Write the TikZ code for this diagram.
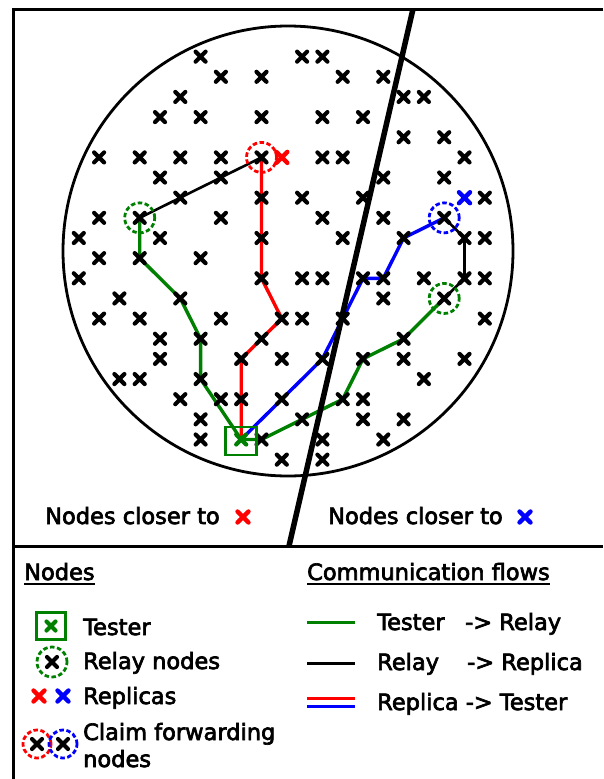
\documentclass[tikz,border=0pt]{standalone}
\usepackage{fontspec}
\setmainfont{DejaVu Sans}[FakeBold=3]
\usetikzlibrary{shapes.misc}
\definecolor{dgreen}{RGB}{0,128,0}
\pgfdeclarelayer{bg}
\pgfsetlayers{bg,main}
\begin{document}
\begin{tikzpicture}[x=1pt,y=-1pt,
  xmark/.style={cross out, draw=black, line width=4.2pt, line cap=round, minimum size=10pt, inner sep=0pt, outer sep=0pt},
  cmark/.style={xmark, line width=4.4pt, minimum size=11pt},
  ring/.style={circle, draw, dash pattern=on 4.5pt off 2.5pt, line width=2.8pt, minimum size=30pt, inner sep=0pt},
  flow/.style={line width=3.4pt, line join=round},
  kflow/.style={line width=2.6pt, line join=round},
  txt/.style={inner sep=0pt, anchor=base west, font=\fontsize{22.5}{26}\selectfont},
  frame/.style={line width=3pt}
]
\useasboundingbox (0,0) rectangle (603,779);

% ---------- grid of nodes ----------
\foreach \i/\j in {7/1,12/1,13/1, 8/2,10/2,14/2,16/2, 6/3,17/3,18/3,
  5/4,7/4,10/4,13/4,15/4, 17/5,19/5,
  2/6,4/6,6/6,8/6,10/6,13/6,14/6,20/6, 5/7,8/7,16/7,19/7,
  6/8,10/8,12/8,15/8,21/8, 2/9,4/9,8/9,13/9,16/9,19/9,
  1/10,5/10,10/10,14/10,17/10,20/10,21/10, 2/11,4/11,7/11,
  1/12,10/12,12/12,13/12,15/12,16/12,18/12,20/12,21/12,
  3/13,6/13,16/13,19/13, 2/14,4/14,8/14,11/14,12/14,14/14,21/14,
  5/15,7/15,10/15,17/15, 5/16,9/16,11/16,13/16,15/16,17/16,20/16,
  3/17,4/17,7/17,18/17, 6/18,8/18,9/18,11/18,14/18,15/18,
  7/19,12/19,15/19,17/19, 7/20,10/20,13/20,16/20, 11/21,13/21}
  \node[xmark] (n\i-\j) at ({58.5+20.3*\i},{36.5+20.15*\j}) {};

% tester
\node[xmark, draw=dgreen] (n9-20) at ({58.5+20.3*9},{36.5+20.15*20}) {};
\node[draw=dgreen, line width=2.8pt, minimum width=31pt, minimum height=28pt, inner sep=0pt] (tbox) at ([yshift=-1.5pt]n9-20) {};

% replicas
\node[cmark, draw=red] (repr) at ({58.5+20.3*11},{36.5+20.15*6}) {};
\node[cmark, draw=blue] (repb) at ({58.5+20.3*20},{36.5+20.15*8}) {};

% relay and claim forwarding rings
\node[ring, draw=dgreen] (relay1) at (n4-9) {};
\node[ring, draw=dgreen] (relay2) at (n19-13) {};
\node[ring, draw=red] (claimr) at (n10-6) {};
\node[ring, draw=blue] (claimb) at (n19-9) {};

\begin{pgfonlayer}{bg}
  \node[circle, draw, line width=2.8pt, minimum size=450pt, inner sep=0pt] (area) at (288,251) {};
  % tester -> relay (left)
  \draw[flow, dgreen] (n9-20.center) -- (n7-17.center) -- (n7-15.center) -- (n6-13.center) -- (n4-11.center) -- (n4-9.center);
  % relay -> replica (left)
  \draw[kflow] (n4-9.center) -- (n6-8.center) -- (n8-7.center) -- (n10-6.center);
  % replica -> tester (red)
  \draw[flow, red] (n10-6.center) -- (n10-10.center) -- (n10-12.center) -- (n11-14.center) -- (n9-16.center) -- (n9-20.center);
  % replica -> tester (blue)
  \draw[flow, blue] (n9-20.center) -- (n11-18.center) -- (n13-16.center) -- (n14-14.center) -- (n15-12.center) -- (n16-12.center) -- (n17-10.center) -- (n19-9.center);
  % relay -> replica (right)
  \draw[kflow] (n19-9.center) -- (n20-10.center) -- (n20-12.center) -- (n19-13.center);
  % tester -> relay (right)
  \draw[flow, dgreen] (n19-13.center) -- (n17-15.center) -- (n15-16.center) -- (n14-18.center) -- (n12-19.center) -- (n10-20.center) -- (n9-20.center);
\end{pgfonlayer}

% ---------- frame and divider ----------
\coordinate (ftr) at (603,9);
\coordinate (ftl) at (13,9);
\coordinate (fbl) at (13,779);
\coordinate (sl) at (13,546);
\coordinate (sr) at (603,546);
\draw[frame] (ftr) -- (ftl) -- (fbl);
\draw[frame] (sl) -- (sr);
\coordinate (dtop) at (413,9);
\coordinate (dbot) at (289,546);
\draw[line width=5.5pt] (dtop) -- (dbot);

% ---------- region labels ----------
\node[txt] (closl) at (45,524) {Nodes closer to};
\node[cmark, draw=red] (closlx) at (243,517) {};
\node[txt] (closr) at (328,524) {Nodes closer to};
\node[cmark, draw=blue] (closrx) at (525,517) {};

% ---------- legend: nodes ----------
\node[txt] (hnodes) at (24,580) {Nodes};
\draw[line width=2pt] ([yshift=-4pt]hnodes.base west) -- ([yshift=-4pt]hnodes.base east);
\node[draw=dgreen, line width=2.8pt, minimum width=29pt, minimum height=27pt, inner sep=0pt] (ltbox) at (51,626) {};
\node[xmark, draw=dgreen, minimum size=9pt] (ltx) at (ltbox) {};
\node[txt] (ltester) at (83,635) {Tester};
\node[ring, draw=dgreen] (lrelay) at (52,662) {};
\node[xmark] (lrelayx) at (lrelay) {};
\node[txt] (lrelayt) at (83,669) {Relay nodes};
\node[cmark, draw=red] (lrepr) at (39,696) {};
\node[cmark, draw=blue] (lrepb) at (63,696) {};
\node[txt] (lrept) at (83,704) {Replicas};
\node[ring, draw=red, minimum size=28pt] (lclr) at (37,744) {};
\node[ring, draw=blue, minimum size=28pt] (lclb) at (63,744) {};
\node[xmark] (lclrx) at (lclr) {};
\node[xmark] (lclbx) at (lclb) {};
\node[txt] (lclt1) at (83,740) {Claim forwarding};
\node[txt] (lclt2) at (83,767) {nodes};

% ---------- legend: flows ----------
\node[txt] (hflows) at (307,580) {Communication flows};
\draw[line width=2pt] ([yshift=-4pt]hflows.base west) -- ([yshift=-4pt]hflows.base east);
\coordinate (g1) at (307,622); \coordinate (g2) at (355,622);
\coordinate (k1) at (307,663); \coordinate (k2) at (355,663);
\coordinate (r1) at (307,698); \coordinate (r2) at (355,698);
\coordinate (b1) at (307,706); \coordinate (b2) at (355,706);
\draw[line width=3pt, dgreen] (g1) -- (g2);
\draw[line width=3pt] (k1) -- (k2);
\draw[line width=3pt, red] (r1) -- (r2);
\draw[line width=3pt, blue] (b1) -- (b2);
\node[txt] (ft1) at (377,630) {\makebox[88pt][l]{Tester}-> Relay};
\node[txt] (ft2) at (377,670) {\makebox[90pt][l]{Relay}-> Replica};
\node[txt] (ft3) at (377,710) {Replica -> Tester};
\end{tikzpicture}
\end{document}
